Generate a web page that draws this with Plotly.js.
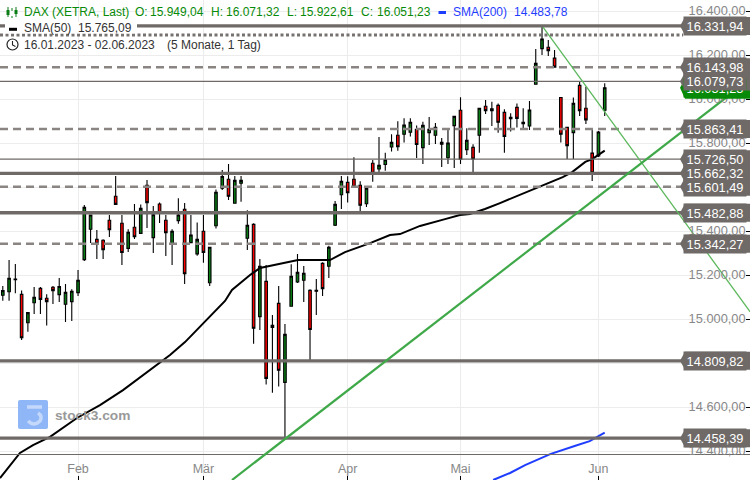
<!DOCTYPE html>
<html>
<head>
<meta charset="utf-8">
<script src="https://cdn.plot.ly/plotly-3.0.1.min.js"></script>
<style>html,body{margin:0;padding:0;background:#fff}#c{width:750px;height:480px}</style>
</head>
<body>
<div id="c"></div>
<script>
// Trading-day index: 0 = 16.01.2023, 96 = 02.06.2023
const opens = [15108,15124,15182,15112,14983,15074,15139,15094,15144,15111,
15067,15079,15120,15270,15408,15362,15358,15449,15558,15435,
15321,15417,15389,15608,15370,15523,15449,15341,15447,15499,
15347,15296,15399,15165,15424,15594,15635,15526,15617,15367,
15430,15011,15171,14971,15071,14712,15058,15168,15176,15130,
15130,15253,15240,15426,15565,15621,15635,15608,15524,15708,
15682,15702,15782,15835,15840,15849,15862,15779,15847,15835,
15803,15733,15879,15949,15770,15780,15835,15967,15955,15971,
15939,15917,15962,15894,15877,16067,16229,16235,16186,16007,
15871,15847,16062,15958,15754,15741,15949.04];
const highs = [15150,15268,15250,15130,15031,15145,15145,15112,15150,15186,
15159,15135,15223,15518,15475,15405,15362,15473,15650,15473,
15408,15523,15521,15632,15514,15530,15473,15408,15549,15527,
15473,15439,15473,15328,15589,15677,15705,15650,15650,15494,
15435,15273,15246,15018,15150,14977,15249,15296,15241,15135,
15182,15258,15333,15536,15650,15649,15735,15626,15597,15723,
15827,15756,15840,15899,15912,15912,15880,15897,15918,15891,
15823,15859,15923,16008,15867,15794,15960,15996,15988,15980,
15953,15935,15980,15958,15991,16227,16331.94,16268,16223,16009,
15873,16007,16079.73,16056,15868,15855,16071.32];
const lows = [15083,15083,15117,14905,14942,15023,15023,14970,15068,15077,
14986,14991,15105,15264,15345,15273,15273,15373,15519,15246,
15305,15364,15386,15414,15300,15436,15286,15246,15433,15159,
15345,15288,15256,15150,15411,15586,15541,15524,15533,15314,
14888,14950,14702,14665,14693,14458.39,15056,15164,15077,14810,
15018,15105,15186,15423,15500,15530,15598,15488,15509,15624,
15668,15674,15761,15765,15802,15829,15732,15705,15791,15796,
15691,15705,15686,15705,15746,15662,15756,15932,15877,15847,
15756,15852,15871,15865,15859,16065,16200,16195,16142,15802,
15727,15727,15923,15886,15627,15736,15922.61];
const closes = [15129,15185,15179,14915,15029,15099,15089,15079,15129,15148,
15121,15126,15176,15508,15473,15342,15315,15406,15521,15302,
15394,15374,15503,15529,15474,15483,15392,15399,15473,15206,
15382,15362,15303,15326,15576,15648,15558,15630,15630,15426,
14958,15240,14730,14962,14767,14930,15194,15212,15208,14952,
15126,15138,15326,15521,15626,15574,15600,15517,15594,15662,
15699,15724,15803,15783,15882,15894,15793,15880,15862,15871,
15794,15800,15921,15726,15812,15727,15958,15947,15947,15894,
15830,15911,15912,15888,15950,16162,16273,16220,16145,15840,
15788,15980,15947,15905,15664,15850,16051.23];
const days = opens.map((_, i) => i);

const sma50X = [-0.45,0.83,2.74,4.82,7.53,11.83,15.5,19.17,21.88,24.27,26.67,29.06,29.85,32.09,34,35.44,36.55,37.83,39.43,41.02,43.41,45.81,47.08,52.18,54.58,58.57,61.75,63.35,66.54,70.53,72.9,74.5,76.9,79.3,82,85.2,87.3,89.3,90.8,92.9,94,96];
const sma50Y = [14277,14323,14391,14427,14464,14550,14609,14677,14736,14786,14836,14895,14918,14986,15041,15082,15132,15164,15200,15232,15245,15259,15268,15268,15304,15345,15382,15386,15423,15454,15473,15477,15500,15527,15559,15600,15623,15645,15668,15714,15727,15765.09];
const sma200X = [78.2,80.9,83.3,87.3,91.2,93.6,96];
const sma200Y = [14268,14300,14336,14386,14423,14445,14483.78];

const trendUpX = [36.55,119.2], trendUpY = [14268,16091];
const trendDownX = [86.16,119.2], trendDownY = [16327,15032];

const thickLevels = [16331.94,15662.32,15482.88,14809.82,14458.39];
const dashedLevels = [16143.98,15863.41,15601.49,15342.27];
const thinLevels = [16079.73,15726.50,14384];
const dottedLevel = 16291;
const tagLevels = [14458.39,14809.82,15342.27,15482.88,15601.49,15662.32,15726.50,15863.41,16051.23,16079.73,16143.98,16331.94];
const currentPrice = 16051.23;

const tickDays = [12,32,55,73,95];
const tickNames = ['Feb','Mär','Apr','Mai','Jun'];

const X_MIN = -0.447, X_MAX = 119.17, Y_MIN = 14268.2, Y_MAX = 16450;
const GREY = '#6f6a67', GREEN = '#078a07', BLUE = '#1f3dff';

const fmt = v => {
  const [a,b] = v.toFixed(2).split('.');
  return a.replace(/\B(?=(\d{3})+$)/g,'.') + ',' + b;
};
const level = (y, color, width, dash, xEnd) => ({
  type:'scatter', mode:'lines', x:[X_MIN, xEnd===undefined?X_MAX:xEnd], y:[y,y],
  line:{color:color,width:width,dash:dash||'solid'}, hoverinfo:'skip', showlegend:false, cliponaxis:true
});

const traces = [
  {type:'candlestick', x:days, open:opens, high:highs, low:lows, close:closes, whiskerwidth:0,
   increasing:{line:{color:'#000',width:1.1},fillcolor:'#0a7d14'},
   decreasing:{line:{color:'#000',width:1.1},fillcolor:'#ff0000'},
   hoverinfo:'skip', showlegend:false},
  {type:'scatter', mode:'lines', x:sma50X, y:sma50Y, line:{color:'#000',width:2}, hoverinfo:'skip', showlegend:false},
  {type:'scatter', mode:'lines', x:sma200X, y:sma200Y, line:{color:BLUE,width:2}, hoverinfo:'skip', showlegend:false}
];
dashedLevels.forEach(v => traces.push(level(v,'#8a8583',2.5,'8px,5px')));
thinLevels.forEach(v => traces.push(level(v,GREY,1.2)));
traces.push(level(dottedLevel,'#77726f',3,'3px,2.5px',108.5));
thickLevels.forEach(v => traces.push(level(v,GREY,3.3)));
traces.push({type:'scatter',mode:'lines',x:trendDownX,y:trendDownY,line:{color:'#5cb85c',width:1.3},hoverinfo:'skip',showlegend:false});
traces.push({type:'scatter',mode:'lines',x:trendUpX,y:trendUpY,line:{color:'#3fa949',width:2.2},hoverinfo:'skip',showlegend:false});

const px = x => x/750, py = y => 1-y/480;
const paperRect = (x0,y0,x1,y1,fill,layer) => ({type:'rect',xref:'paper',yref:'paper',x0:px(x0),x1:px(x1),y0:py(y0),y1:py(y1),fillcolor:fill,line:{width:0},layer:layer||'above'});
const paperPath = (pts,color,width,fill) => ({type:'path',xref:'paper',yref:'paper',
  path:pts.replace(/(-?[\d.]+),(-?[\d.]+)/g,(m,a,b)=>px(+a)+','+py(+b)),
  line:{color:color,width:width},fillcolor:fill||'rgba(0,0,0,0)',layer:'above'});

const shapes = [
  paperRect(688,0,750,480,'#fff','between'),
  // logo
  paperPath('M20,400 L46,400 Q48,400 48,402 L48,427 Q48,429 46,429 L20,429 Q18,429 18,427 L18,402 Q18,400 20,400 Z','rgba(0,0,0,0)',0,'#8fb6f6'),
  paperPath('M27,407 L42,407','#c3d8fb',3.5),
  paperPath('M28,421 Q34,427 40,421 Q43,416 38,413','#c3d8fb',3.5),
  // legend row 2 background and markers
  paperRect(5,22,137,33.5,'#fff'),
  paperRect(9,27.8,17,30.8,'#000'),
  paperRect(438.5,11,446,14,BLUE),
  // clock
  {type:'circle',xref:'paper',yref:'paper',x0:px(7),x1:px(18),y0:py(39),y1:py(50),line:{color:'#222',width:1.2},layer:'above'},
  paperPath('M12.5,41 L12.5,45 L15.5,46.5','#222',1.1),
  // candle icon
  paperPath('M8,7 L8,17','#0a7d14',1),paperRect(6.5,10,9.5,15,'#0a7d14'),
  paperPath('M12,8 L12,18','#0a7d14',1),paperRect(10.5,11,13.5,16,'#fff'),
  paperPath('M16,7 L16,17','#0a7d14',1),paperRect(14.5,10,17.5,14,'#0a7d14')
];
tagLevels.forEach(v => {
  const cur = v === currentPrice;
  shapes.push({type:'path', xref:'paper', yref:'y', xsizemode:'pixel', ysizemode:'pixel', xanchor:1, yanchor:v,
    path: cur ? 'M-70,0 L-65,9 L0,9 L0,-11 L-65,-11 Z' : 'M-70,0 L-65,9 L0,9 L0,-9 L-65,-9 Z',
    fillcolor: cur ? '#078a07' : GREY, line:{width:0}, layer:'above'});
});

const txt = (x,y,t,color,opt) => Object.assign({xref:'paper',yref:'paper',x:px(x),y:py(y),xanchor:'left',yanchor:'middle',
  text:t,showarrow:false,borderpad:0,font:{family:'Liberation Sans',size:12,color:color}},opt||{});
const annotations = [
  txt(23.3,12.5,'DAX (XETRA, Last)',GREEN),
  txt(134.3,12.5,'O:',GREEN),txt(149,12.5,'15.949,04',GREEN),
  txt(210,12.5,'H:',GREEN),txt(225.3,12.5,'16.071,32',GREEN),
  txt(286.3,12.5,'L:',GREEN),txt(299.3,12.5,'15.922,61',GREEN),
  txt(360,12.5,'C:',GREEN),txt(375.7,12.5,'16.051,23',GREEN),
  txt(452.3,12.5,'SMA(200)',BLUE),txt(513.3,12.5,'14.483,78',BLUE),
  txt(23.3,28.5,'SMA(50)','#333'),txt(77.3,28.5,'15.765,09','#333'),
  txt(23,44.5,'16.01.2023 - 02.06.2023','#333'),txt(166,44.5,'(5 Monate, 1 Tag)','#333'),
  txt(54,415,'stock3.com','#999',{font:{family:'Liberation Sans',size:13.7,color:'#999',weight:'bold'}})
];
tagLevels.forEach(v => annotations.push({
  xref:'paper', yref:'y', x:1, y:v, xanchor:'right', yanchor:'middle', xshift:-3, width:62, height:18,
  text:fmt(v), showarrow:false, borderpad:0, align:'center',
  bgcolor: v===currentPrice ? '#078a07' : GREY,
  font:{family:'Liberation Sans',size:12.8,color:'#fff'}
}));

const layout = {
  width:750, height:480, autosize:false,
  margin:{l:0,r:0,t:0,b:0,pad:0},
  paper_bgcolor:'#fff', plot_bgcolor:'#fff',
  separators:',.', boxgap:0.42, showlegend:false, dragmode:false,
  xaxis:{type:'linear',range:[X_MIN,X_MAX],tickmode:'array',tickvals:tickDays,ticktext:tickNames,
    rangeslider:{visible:false},ticks:'inside',ticklen:4,tickcolor:'#000',tickwidth:1,
    ticklabelposition:'inside',showgrid:true,gridcolor:'#ececec',gridwidth:1,zeroline:false,showline:false,
    tickfont:{family:'Liberation Sans',size:12.5,color:'#888'}},
  yaxis:{type:'linear',range:[Y_MIN,Y_MAX],side:'right',dtick:200,tick0:14400,tickformat:',.2f',
    ticks:'inside',ticklen:4,tickcolor:'#000',tickwidth:1,ticklabelposition:'inside',
    showgrid:true,gridcolor:'#ececec',gridwidth:1,zeroline:false,showline:false,
    tickfont:{family:'Liberation Sans',size:12.8,color:'#888'}},
  shapes:shapes, annotations:annotations
};
Plotly.newPlot('c',traces,layout,{displayModeBar:false,staticPlot:true});
</script>
</body>
</html>
